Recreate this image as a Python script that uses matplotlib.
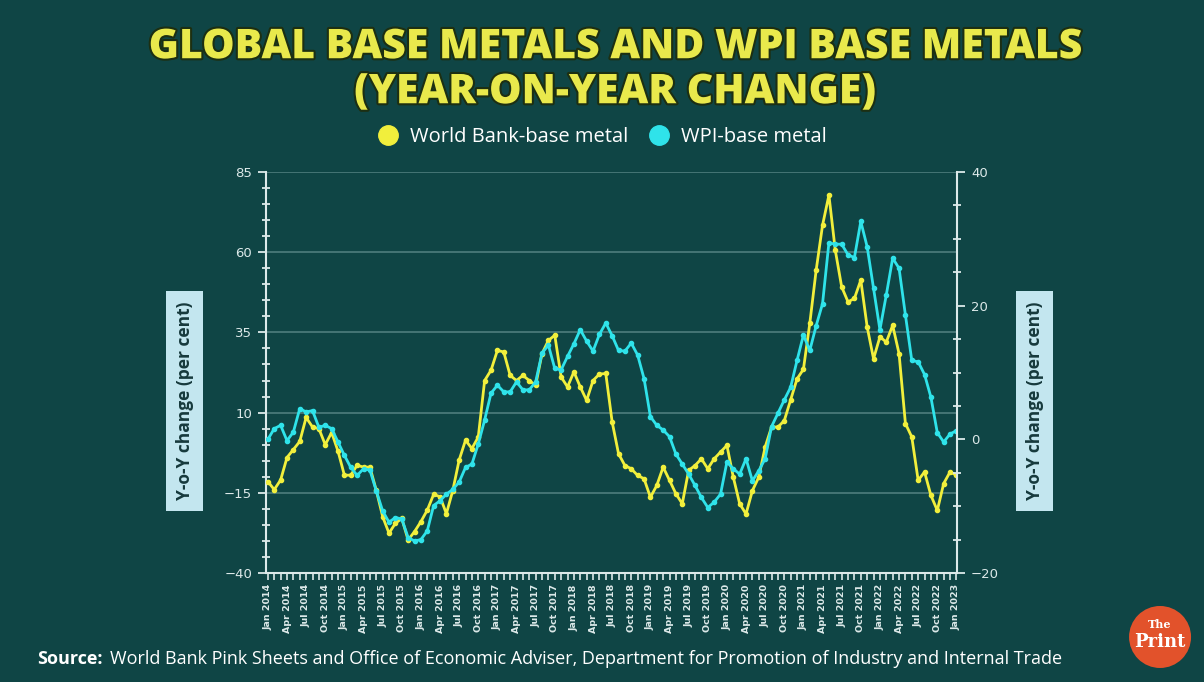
import matplotlib
matplotlib.use("Agg")
import matplotlib.pyplot as plt
import matplotlib.patheffects as pe
from matplotlib.lines import Line2D
from matplotlib.patches import Ellipse, Rectangle
from matplotlib.ticker import MultipleLocator

# monthly, Jan 2014 .. Jan 2023
months = [f"{m} {y}" for y in range(2014, 2024) for m in
          ["Jan", "Feb", "Mar", "Apr", "May", "Jun", "Jul", "Aug", "Sep", "Oct", "Nov", "Dec"]][:109]
tick_labels = months[::3]

# World Bank base metal index, y-o-y % (left axis)
world_bank = [
    -11.5, -14.0, -11.0, -4.0, -1.5, 1.0, 8.5, 5.5, 5.0, 0.0, 3.8, -2.0,
    -9.5, -9.5, -6.4, -7.0, -7.0, -14.2, -22.4, -27.6, -24.5, -23.0, -29.7, -27.1,
    -24.0, -20.4, -15.5, -16.2, -21.5, -14.3, -4.8, 1.4, -1.2, 2.4, 20.0, 23.2,
    29.4, 28.9, 21.6, 20.0, 21.6, 20.0, 18.5, 28.4, 32.5, 34.1, 21.1, 18.0,
    22.7, 18.0, 13.8, 20.0, 22.0, 22.2, 7.1, -2.8, -6.5, -7.5, -9.6, -10.6,
    -16.4, -12.7, -7.0, -11.1, -15.3, -18.4, -8.0, -6.5, -4.4, -7.5, -4.4, -2.3,
    -0.2, -10.1, -18.4, -21.6, -14.3, -10.1, -0.7, 5.5, 5.5, 7.5, 14.0, 20.5,
    23.5, 37.8, 54.4, 68.4, 77.8, 60.6, 49.2, 44.5, 45.6, 51.3, 36.7, 26.8,
    33.6, 32.0, 37.2, 28.4, 6.6, 2.4, -11.1, -8.5, -15.8, -20.5, -12.1, -8.5,
    -9.5,
]

# WPI base metal, y-o-y % (right axis)
wpi = [
    0.0, 1.6, 2.1, -0.2, 1.1, 4.6, 4.1, 4.3, 1.8, 2.1, 1.6, -0.4,
    -2.4, -4.2, -5.4, -4.4, -4.6, -7.7, -10.7, -12.4, -11.7, -11.9, -14.7, -15.2,
    -15.0, -13.7, -9.9, -9.2, -8.2, -7.5, -6.4, -4.2, -3.7, -0.7, 2.9, 6.9,
    8.1, 7.1, 7.1, 8.6, 7.4, 7.4, 8.6, 12.9, 14.1, 10.6, 10.4, 12.4,
    14.3, 16.4, 14.7, 13.2, 15.7, 17.4, 15.5, 13.3, 13.2, 14.4, 12.6, 9.1,
    3.4, 2.1, 1.4, 0.4, -2.2, -3.7, -5.2, -6.9, -8.7, -10.2, -9.4, -8.2,
    -3.4, -4.4, -5.2, -2.9, -6.2, -4.7, -2.9, 1.9, 3.9, 5.9, 7.8, 11.8,
    15.6, 13.3, 17.0, 20.3, 29.4, 29.2, 29.2, 27.6, 27.2, 32.6, 28.8, 22.6,
    16.4, 21.6, 27.1, 25.6, 18.6, 11.8, 11.6, 9.7, 6.3, 1.0, -0.4, 0.8,
    1.3,
]

BG = "#0f4545"
YELLOW = "#f1ef3c"
CYAN = "#2fe3ea"
AXIS = "#dce9e9"
GRID = "#4e7d7d"

fig = plt.figure(figsize=(12.04, 6.82), dpi=100)
fig.patch.set_facecolor(BG)

ax = fig.add_axes([0.2209, 0.1598, 0.5740, 0.5880])
ax.set_facecolor("none")
ax2 = ax.twinx()
x = list(range(len(months)))

ax.plot(x, world_bank, color=YELLOW, lw=2.0, marker="o", ms=3, zorder=3)
ax2.plot(x, wpi, color=CYAN, lw=2.0, marker="o", ms=3, zorder=2)

ax.set_xlim(-0.3, 108.1)
ax.set_ylim(-40, 85)
ax2.set_ylim(-20, 40)
ax.set_yticks([85, 60, 35, 10, -15, -40])
ax.yaxis.set_minor_locator(MultipleLocator(5))
ax2.set_yticks([40, 20, 0, -20])
ax2.yaxis.set_minor_locator(MultipleLocator(5))
ax.set_xticks(range(0, 109, 3))
ax.set_xticklabels(tick_labels, rotation=90, fontsize=6.8, fontweight="bold", color=AXIS)
ax.xaxis.set_minor_locator(MultipleLocator(1))

for gy in [85, 60, 35, 10, -15]:
    ax.axhline(gy, color=GRID, lw=1.2, zorder=0)

for a in (ax, ax2):
    for s in a.spines.values():
        s.set_visible(False)
    a.tick_params(colors=AXIS, which="both")
ax.spines["left"].set_visible(True)
ax.spines["left"].set_color(AXIS)
ax.spines["left"].set_linewidth(1.5)
ax.spines["bottom"].set_visible(True)
ax.spines["bottom"].set_color(AXIS)
ax.spines["bottom"].set_linewidth(1.5)
ax2.spines["right"].set_visible(True)
ax2.spines["right"].set_color(AXIS)
ax2.spines["right"].set_linewidth(1.5)

ax.tick_params(axis="y", which="major", length=6, width=1.3, labelsize=9.5, labelcolor=AXIS, pad=4)
ax.tick_params(axis="y", which="minor", length=6, width=1.3, direction="inout")
ax2.tick_params(axis="y", which="major", length=6, width=1.3, labelsize=9.5, labelcolor=AXIS, pad=4)
ax2.tick_params(axis="y", which="minor", length=6, width=1.3, direction="inout")
ax.tick_params(axis="x", which="both", length=5, width=1.2, direction="out", pad=3)

# title
stroke = [pe.withStroke(linewidth=3, foreground="#1c2f12")]
fig.text(0.511, 0.930, "GLOBAL BASE METALS AND WPI BASE METALS", ha="center", va="center",
         fontsize=29.5, fontweight="heavy", family="Open Sans", color="#e9e94c", path_effects=stroke)
fig.text(0.511, 0.864, "(YEAR-ON-YEAR CHANGE)", ha="center", va="center",
         fontsize=29.5, fontweight="heavy", family="Open Sans", color="#e9e94c", path_effects=stroke)

# legend
handles = [Line2D([], [], ls="none", marker="o", ms=14, color=YELLOW),
           Line2D([], [], ls="none", marker="o", ms=14, color=CYAN)]
leg = fig.legend(handles, ["World Bank-base metal", "WPI-base metal"], loc="center",
                 bbox_to_anchor=(0.496, 0.799), ncol=2, frameon=False, handletextpad=0.1,
                 columnspacing=0.5, prop={"family": "Open Sans", "size": 14.5})
for t in leg.get_texts():
    t.set_color("white")

# axis label boxes
for bx in (0.1379, 0.8439):
    fig.patches.append(Rectangle((bx, 0.2507), 0.0307, 0.3226, transform=fig.transFigure,
                                 facecolor="#c3e6ef", edgecolor="none"))
    fig.text(bx + 0.0154, 0.412, "Y-o-Y change (per cent)", rotation=90, ha="center", va="center",
             fontsize=12.5, fontweight="bold", family="Open Sans", color="#16393c")

# source
fig.text(0.031, 0.027, "Source:", fontsize=13, fontweight="bold", family="Open Sans", color="white")
fig.text(0.0914, 0.027, "World Bank Pink Sheets and Office of Economic Adviser, Department for "
         "Promotion of Industry and Internal Trade", fontsize=13, family="Open Sans", color="white")

# logo
fig.patches.append(Ellipse((0.9635, 0.066), 62 / 1204, 62 / 682, transform=fig.transFigure,
                           facecolor="#e2522b", edgecolor="none"))
fig.text(0.9635, 0.085, "The", ha="center", va="center", fontsize=8, family="DejaVu Serif",
         fontweight="bold", color="white")
fig.text(0.9635, 0.058, "Print", ha="center", va="center", fontsize=13, family="DejaVu Serif",
         fontweight="bold", color="white")

fig.savefig("out.png", dpi=100, facecolor=BG)
